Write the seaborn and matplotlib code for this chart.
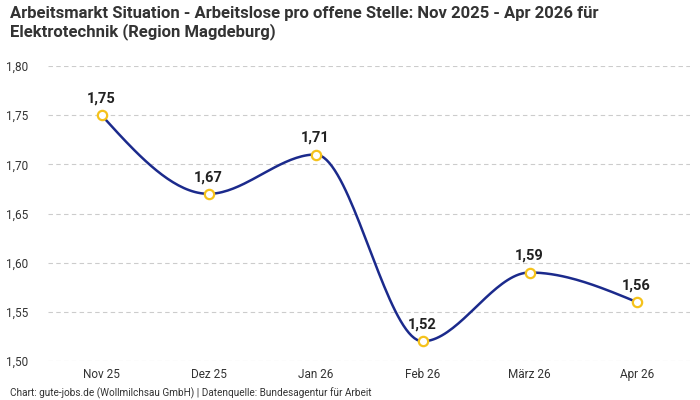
import numpy as np
import pandas as pd
import matplotlib
matplotlib.use("Agg")
import matplotlib.pyplot as plt
import seaborn as sns

# Daten
monate = ["Nov 25", "Dez 25", "Jan 26", "Feb 26", "März 26", "Apr 26"]
werte = [1.75, 1.67, 1.71, 1.52, 1.59, 1.56]
y_ticks = [1.50, 1.55, 1.60, 1.65, 1.70, 1.75, 1.80]

titel = "Arbeitsmarkt Situation - Arbeitslose pro offene Stelle: Nov 2025 - Apr 2026 für\nElektrotechnik (Region Magdeburg)"
quelle = "Chart: gute-jobs.de (Wollmilchsau GmbH) | Datenquelle: Bundesagentur für Arbeit"

LINIE = "#1b2a8c"
PUNKT = "#f5c21b"

sns.set_theme(style="white")
plt.rcParams['font.family'] = ['Roboto', 'DejaVu Sans']

df = pd.DataFrame({"x": np.arange(len(monate)), "wert": werte})


# monotone Kurve (wie d3 curveMonotoneX) zum Glätten der Linie
def monotone_kurve(x, y, n=40):
    x = np.asarray(x, float)
    y = np.asarray(y, float)
    h = np.diff(x)
    s = np.diff(y) / h
    m = np.zeros(len(x))
    for i in range(1, len(x) - 1):
        p = (s[i - 1] * h[i] + s[i] * h[i - 1]) / (h[i - 1] + h[i])
        m[i] = (np.sign(s[i - 1]) + np.sign(s[i])) * min(abs(s[i - 1]), abs(s[i]), 0.5 * abs(p))
    m[0] = (3 * s[0] - m[1]) / 2
    m[-1] = (3 * s[-1] - m[-2]) / 2
    xs, ys = [], []
    for i in range(len(x) - 1):
        t = np.linspace(0, 1, n)
        h00 = 2 * t**3 - 3 * t**2 + 1
        h10 = t**3 - 2 * t**2 + t
        h01 = -2 * t**3 + 3 * t**2
        h11 = t**3 - t**2
        xs.append(x[i] + t * h[i])
        ys.append(h00 * y[i] + h10 * h[i] * m[i] + h01 * y[i + 1] + h11 * h[i] * m[i + 1])
    return np.concatenate(xs), np.concatenate(ys)


kx, ky = monotone_kurve(df["x"], df["wert"])
kurve = pd.DataFrame({"x": kx, "wert": ky})

fig = plt.figure(figsize=(7, 4), dpi=100)
ax = fig.add_axes([0.0686, 0.0975, 0.9174, 0.7375])

sns.lineplot(data=kurve, x="x", y="wert", color=LINIE, linewidth=1.8, ax=ax, zorder=3)
sns.scatterplot(data=df, x="x", y="wert", s=45, facecolor="white", edgecolor=PUNKT,
                linewidth=1.6, ax=ax, zorder=4)

for xi, wi in zip(df["x"], df["wert"]):
    ax.annotate(f"{wi:.2f}".replace(".", ","), (xi, wi), xytext=(0, 7),
                textcoords="offset points", ha="center", va="bottom",
                fontsize=10.5, fontweight="bold", color="#222222")

ax.set_xlim(-0.5, 5.5)
ax.set_ylim(1.50, 1.80)
ax.set_yticks(y_ticks)
ax.set_yticklabels([f"{v:.2f}".replace(".", ",") for v in y_ticks])
ax.set_xticks(df["x"])
ax.set_xticklabels(monate)
ax.set_xlabel("")
ax.set_ylabel("")
ax.tick_params(axis="both", length=0, labelsize=8.5, colors="#333333")
ax.tick_params(axis="y", pad=14)
ax.tick_params(axis="x", pad=5)
ax.grid(axis="y", color="#cccccc", linestyle=(0, (4, 3)), linewidth=0.8)
ax.grid(axis="x", visible=False)
for sp in ax.spines.values():
    sp.set_visible(False)

fig.text(0.014, 0.985, titel, ha="left", va="top", fontsize=12, fontweight="bold",
         color="#333333", linespacing=1.15)
fig.text(0.014, 0.0175, quelle, ha="left", va="center", fontsize=7.2, color="#333333")

fig.savefig("out.png", dpi=100)
